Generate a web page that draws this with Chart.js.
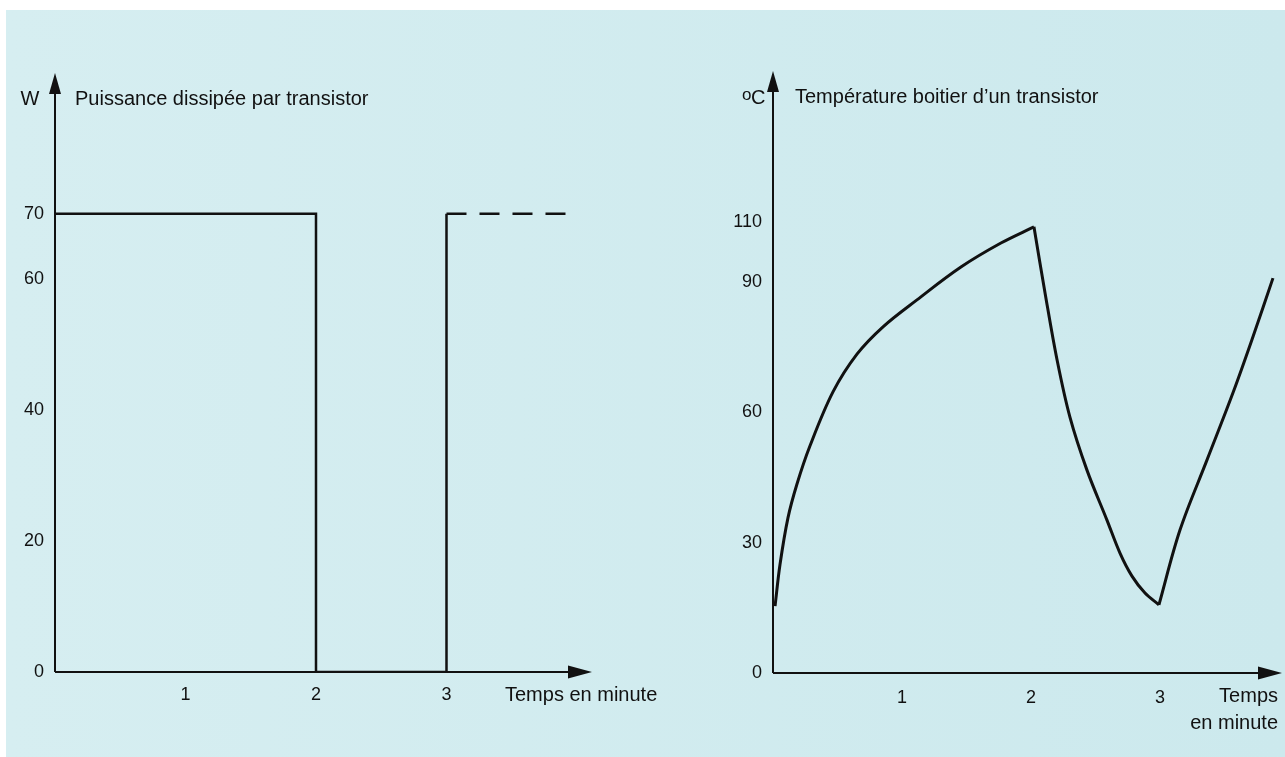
<!DOCTYPE html>
<html>
<head>
<meta charset="utf-8">
<script src="https://cdn.jsdelivr.net/npm/chart.js@4.4.1/dist/chart.umd.min.js"></script>
<style>
  html, body { margin: 0; padding: 0; background: #fff; }
  .paper {
    position: absolute; left: 6px; top: 10px; width: 1279px; height: 747px;
    background: linear-gradient(to right, #d6eef1, #cce9ed);
  }
  canvas { position: absolute; top: 0; }
  #power { left: 0; }
  #temp { left: 640px; }
</style>
</head>
<body>
<div class="paper"></div>
<canvas id="power" width="700" height="757"></canvas>
<canvas id="temp" width="645" height="757"></canvas>
<script>
// puissance dissipée (W) en fonction du temps (minutes)
const powerTimes = [0, 2, 2, 3, 3]
const powerWatts = [70, 70, 0, 0, 70]
const restartTimes = [3, 3.97]
const restartWatts = [70, 70]
const powerTicks = [0, 20, 40, 60, 70]

// température boitier (°C)
const heatTimes = [0.016, 0.054, 0.116, 0.186, 0.287, 0.465, 0.651, 0.853, 1.116, 1.457, 1.767, 2.023]
const heatTemps = [15.4, 24.9, 35.7, 43.5, 52.3, 64.7, 73.4, 79.7, 85.9, 95, 103, 108.4]
const coolTimes = [2.023, 2.109, 2.202, 2.302, 2.434, 2.589, 2.69, 2.783, 2.884, 2.992]
const coolTemps = [108.4, 87.5, 72.1, 58.9, 46.7, 35.2, 27.6, 22.3, 18.4, 15.7]
const reheatTimes = [2.992, 3.155, 3.364, 3.566, 3.721, 3.876]
const reheatTemps = [15.7, 32.9, 49, 64.5, 77.4, 91.3]
const tempTicks = [0, 30, 60, 90, 110]

const minuteTicks = [1, 2, 3]

const INK = '#111'
const FONT = '"Liberation Sans", Arial, sans-serif'

const points = (xs, ys) => xs.map((x, i) => ({ x, y: ys[i] }))

// echelle lineaire dont la partie haute est resserree (comme sur le dessin)
class WarpedScale extends Chart.LinearScale {
  warp (v) {
    const at = this.options.breakAt
    const k = this.options.squeeze
    return v <= at ? v : at + (v - at) * k
  }

  unwarp (w) {
    const at = this.options.breakAt
    const k = this.options.squeeze
    return w <= at ? w : at + (w - at) / k
  }

  getPixelForValue (value) {
    if (value === null || isNaN(value)) return NaN
    const lo = this.warp(this.min)
    const hi = this.warp(this.max)
    return this.getPixelForDecimal((this.warp(value) - lo) / (hi - lo))
  }

  getValueForPixel (pixel) {
    const lo = this.warp(this.min)
    const hi = this.warp(this.max)
    return this.unwarp(lo + this.getDecimalForPixel(pixel) * (hi - lo))
  }
}
WarpedScale.id = 'warped'
WarpedScale.defaults = Chart.LinearScale.defaults
Chart.register(WarpedScale)

const arrowAxes = {
  id: 'arrowAxes',
  beforeDatasetsDraw (chart) {
    const { ctx, chartArea: a } = chart
    ctx.save()
    ctx.strokeStyle = INK
    ctx.fillStyle = INK
    ctx.lineWidth = 2
    ctx.beginPath()
    ctx.moveTo(a.left, a.bottom)
    ctx.lineTo(a.left, a.top + 18)
    ctx.moveTo(a.left, a.bottom)
    ctx.lineTo(a.right - 20, a.bottom)
    ctx.stroke()

    ctx.beginPath()
    ctx.moveTo(a.left, a.top)
    ctx.lineTo(a.left - 6, a.top + 21)
    ctx.lineTo(a.left + 6, a.top + 21)
    ctx.closePath()
    ctx.fill()

    ctx.beginPath()
    ctx.moveTo(a.right, a.bottom)
    ctx.lineTo(a.right - 24, a.bottom - 6.5)
    ctx.lineTo(a.right - 24, a.bottom + 6.5)
    ctx.closePath()
    ctx.fill()
    ctx.restore()
  },
  afterDraw (chart, args, opts) {
    const { ctx, chartArea: a } = chart
    ctx.save()
    ctx.fillStyle = INK
    ctx.textBaseline = 'middle'
    ctx.font = '20px ' + FONT

    if (opts.unit === 'oC') {
      ctx.textAlign = 'left'
      ctx.font = '17px ' + FONT
      ctx.fillText('o', a.left - 31, a.top + 24)
      ctx.font = '20px ' + FONT
      ctx.fillText('C', a.left - 22, a.top + 27)
    } else {
      ctx.textAlign = 'center'
      ctx.fillText(opts.unit, a.left - 25, a.top + 26)
    }

    ctx.textAlign = 'left'
    ctx.fillText(opts.title, a.left + opts.titleDx, a.top + 26)

    ctx.textAlign = opts.xAlign
    opts.xLines.forEach((line, i) => {
      ctx.fillText(line, a.right + opts.xDx, a.bottom + 23 + i * 27)
    })
    ctx.restore()
  }
}

function axisOptions (xMax, yScale, yTicks, yWidth, xHeight, xPad) {
  return {
    x: {
      type: 'linear',
      min: 0,
      max: xMax,
      afterBuildTicks: s => { s.ticks = minuteTicks.map(v => ({ value: v })) },
      afterFit: s => { s.height = xHeight },
      grid: { display: false, drawTicks: false },
      border: { display: false },
      ticks: { color: INK, padding: xPad, font: { family: FONT, size: 18 }, maxRotation: 0 }
    },
    y: Object.assign({
      afterBuildTicks: s => { s.ticks = yTicks.map(v => ({ value: v })) },
      afterFit: s => { s.width = yWidth },
      grid: { display: false, drawTicks: false },
      border: { display: false },
      ticks: { color: INK, padding: 11, font: { family: FONT, size: 18 } }
    }, yScale)
  }
}

new Chart(document.getElementById('power'), {
  type: 'line',
  data: {
    datasets: [
      {
        data: points(powerTimes, powerWatts),
        borderColor: INK,
        borderWidth: 2.5,
        pointRadius: 0,
        tension: 0
      },
      {
        data: points(restartTimes, restartWatts),
        borderColor: INK,
        borderWidth: 2.5,
        borderDash: [20, 13],
        pointRadius: 0,
        tension: 0
      }
    ]
  },
  options: {
    responsive: false,
    animation: false,
    layout: { padding: { top: 73, right: 108, left: 0, bottom: 0 } },
    scales: axisOptions(4.115, { type: 'linear', min: 0, max: 91.5 }, powerTicks, 55, 85, 12),
    plugins: {
      legend: { display: false },
      tooltip: { enabled: false },
      arrowAxes: {
        unit: 'W',
        title: 'Puissance dissipée par transistor',
        titleDx: 20,
        xLines: ['Temps en minute'],
        xAlign: 'left',
        xDx: -87
      }
    }
  },
  plugins: [arrowAxes]
})

const curve = (xs, ys) => ({
  data: points(xs, ys),
  borderColor: INK,
  borderWidth: 3,
  pointRadius: 0,
  tension: 0.35
})

new Chart(document.getElementById('temp'), {
  type: 'line',
  data: {
    datasets: [
      curve(heatTimes, heatTemps),
      curve(coolTimes, coolTemps),
      curve(reheatTimes, reheatTemps)
    ]
  },
  options: {
    responsive: false,
    animation: false,
    layout: { padding: { top: 71, right: 3, left: 0, bottom: 0 } },
    scales: axisOptions(3.946, { type: 'warped', min: 0, max: 160.4, breakAt: 90, squeeze: 0.69 }, tempTicks, 133, 84, 14),
    plugins: {
      legend: { display: false },
      tooltip: { enabled: false },
      arrowAxes: {
        unit: 'oC',
        title: 'Température boitier d’un transistor',
        titleDx: 22,
        xLines: ['Temps', 'en minute'],
        xAlign: 'right',
        xDx: -4
      }
    }
  },
  plugins: [arrowAxes]
})
</script>
</body>
</html>
